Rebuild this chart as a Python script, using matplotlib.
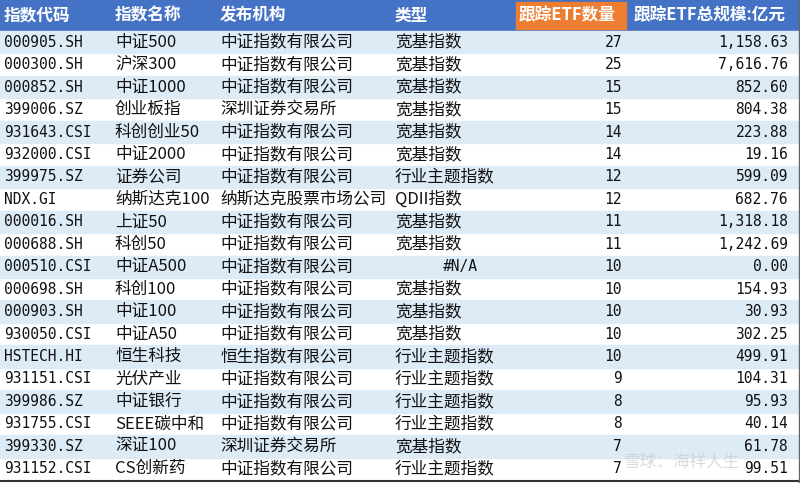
import matplotlib.pyplot as plt
from matplotlib.patches import Rectangle

plt.rcParams["font.family"] = ["Noto Sans CJK SC", "DejaVu Sans"]

headers = ["指数代码", "指数名称", "发布机构", "类型", "跟踪ETF数量", "跟踪ETF总规模:亿元"]
codes = ["000905.SH", "000300.SH", "000852.SH", "399006.SZ", "931643.CSI", "932000.CSI",
         "399975.SZ", "NDX.GI", "000016.SH", "000688.SH", "000510.CSI", "000698.SH",
         "000903.SH", "930050.CSI", "HSTECH.HI", "931151.CSI", "399986.SZ", "931755.CSI",
         "399330.SZ", "931152.CSI"]
names = ["中证500", "沪深300", "中证1000", "创业板指", "科创创业50", "中证2000", "证券公司",
         "纳斯达克100", "上证50", "科创50", "中证A500", "科创100", "中证100", "中证A50",
         "恒生科技", "光伏产业", "中证银行", "SEEE碳中和", "深证100", "CS创新药"]
orgs = ["中证指数有限公司"] * 3 + ["深圳证券交易所"] + ["中证指数有限公司"] * 3 + \
       ["纳斯达克股票市场公司"] + ["中证指数有限公司"] * 6 + ["恒生指数有限公司"] + \
       ["中证指数有限公司"] * 3 + ["深圳证券交易所", "中证指数有限公司"]
types = ["宽基指数"] * 6 + ["行业主题指数", "QDII指数", "宽基指数", "宽基指数", "#N/A",
         "宽基指数", "宽基指数", "宽基指数", "行业主题指数", "行业主题指数", "行业主题指数",
         "行业主题指数", "宽基指数", "行业主题指数"]
counts = [27, 25, 15, 15, 14, 14, 12, 12, 11, 11, 10, 10, 10, 10, 10, 9, 8, 8, 7, 7]
sizes = ["1,158.63", "7,616.76", "852.60", "804.38", "223.88", "19.16", "599.09", "682.76",
         "1,318.18", "1,242.69", "0.00", "154.93", "30.93", "302.25", "499.91", "104.31",
         "95.93", "40.14", "61.78", "99.51"]

W, H = 800, 483
fig = plt.figure(figsize=(8, 4.83), dpi=100)
ax = fig.add_axes([0, 0, 1, 1])
ax.set_xlim(0, W)
ax.set_ylim(H, 0)
ax.axis("off")

head_h = 31
row_h = (H - 3 - head_h) / len(codes)
blue = "#4472C4"
ax.add_patch(Rectangle((0, 0), W, head_h, color=blue))
ax.add_patch(Rectangle((516, 2), 110, head_h - 4, color="#ED7D31"))
hx = [4, 115, 220, 395, 519, 634]
for x, h in zip(hx, headers):
    ax.text(x, head_h / 2, h, color="white", fontsize=12, fontweight="bold",
            va="center", ha="left")

for i in range(len(codes)):
    y0 = head_h + i * row_h
    yc = y0 + row_h / 2
    if i % 2 == 0:
        ax.add_patch(Rectangle((0, y0), W, row_h, color="#DDEBF7"))
    kw = dict(fontsize=10.5, va="center", color="#111111")
    cj = dict(fontsize=12, va="center", color="#111111")
    ax.text(4, yc, codes[i], family="DejaVu Sans Mono", **kw)
    ax.text(115, yc, names[i], ha="left", **cj)
    ax.text(220, yc, orgs[i], ha="left", **cj)
    if types[i] == "#N/A":
        ax.text(460, yc, types[i], ha="center", family="DejaVu Sans Mono", **kw)
    else:
        ax.text(395, yc, types[i], ha="left", **cj)
    if counts[i] >= 10:
        ax.text(622, yc, str(counts[i]), ha="right", family="DejaVu Sans Mono", **kw)
    else:
        ax.text(613, yc, str(counts[i]), ha="left", family="DejaVu Sans Mono", **kw)
    ax.text(788, yc, sizes[i], ha="right", family="DejaVu Sans Mono", **kw)

ax.plot([0, W], [H - 2, H - 2], color="#333333", lw=1.5)
ax.plot([W - 1, W - 1], [0, H], color="#666666", lw=1)
ax.text(682, 462, "雪球：海祥人生", fontsize=12, color="#cccccc", alpha=0.7,
        ha="center", va="center")

fig.savefig("out.png", dpi=100)
